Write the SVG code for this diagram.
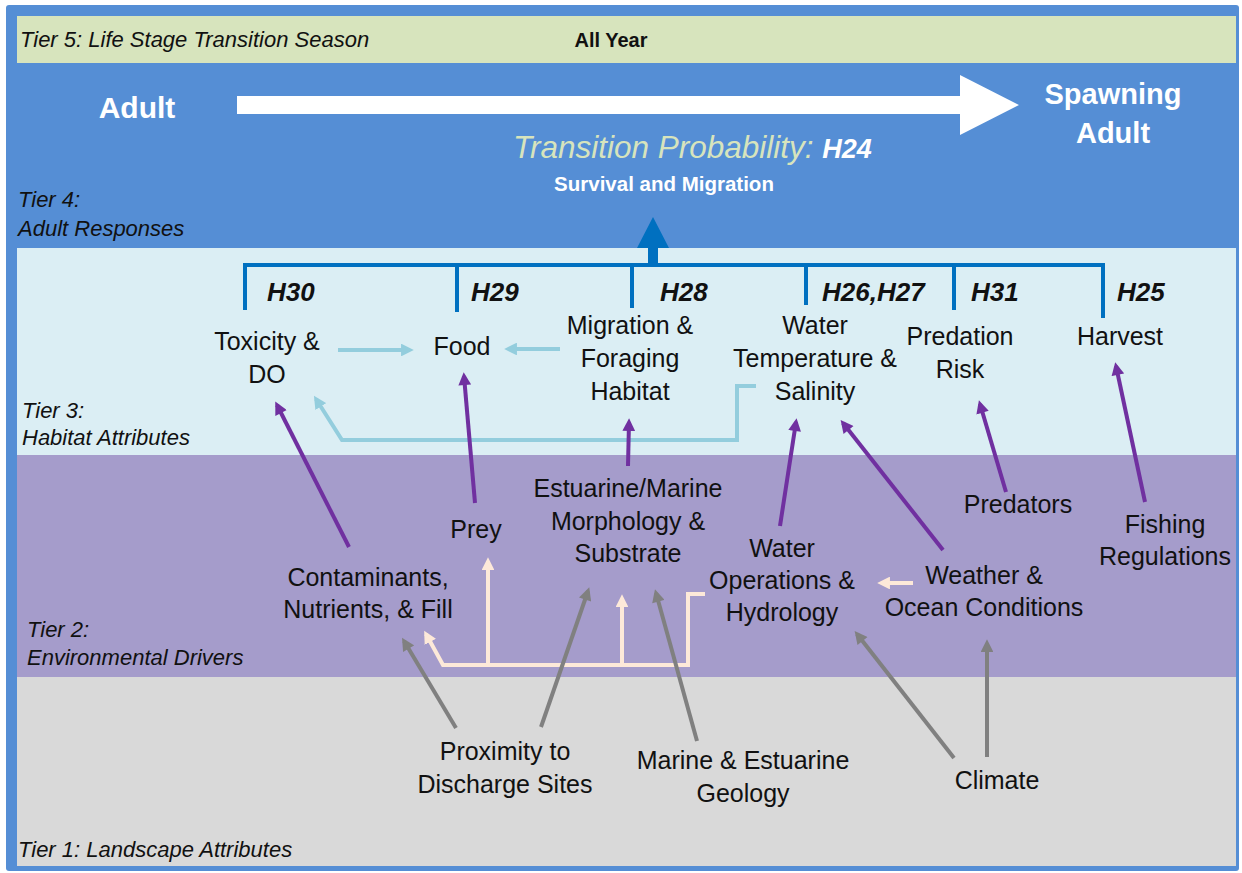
<svg xmlns="http://www.w3.org/2000/svg" width="1242" height="873" viewBox="0 0 1242 873">
<style>
.t{font-family:"Liberation Sans",Arial,sans-serif;fill:#111;}
.n{font-size:25px;text-anchor:middle;}
.tier{font-size:22px;font-style:italic;}
.h{font-size:26px;font-weight:bold;font-style:italic;}
.pu{stroke:#7030A0;stroke-width:4;fill:none;marker-end:url(#mPu);}
.gr{stroke:#808080;stroke-width:4;fill:none;marker-end:url(#mGr);}
.lb{stroke:#93CDDD;stroke-width:4;fill:none;marker-end:url(#mLb);}
.pe{stroke:#FDE9D9;stroke-width:4;fill:none;marker-end:url(#mPe);}
.br{stroke:#0070C0;stroke-width:4;fill:none;}
</style>
<defs>
<marker id="mPu" viewBox="0 0 10 10" refX="7" refY="5" markerWidth="3.4" markerHeight="3.2" orient="auto"><path d="M0,0 L10,5 L0,10 z" fill="#7030A0"/></marker>
<marker id="mGr" viewBox="0 0 10 10" refX="7" refY="5" markerWidth="3.4" markerHeight="3.2" orient="auto"><path d="M0,0 L10,5 L0,10 z" fill="#808080"/></marker>
<marker id="mLb" viewBox="0 0 10 10" refX="7" refY="5" markerWidth="3.2" markerHeight="3.2" orient="auto"><path d="M0,0 L10,5 L0,10 z" fill="#93CDDD"/></marker>
<marker id="mPe" viewBox="0 0 10 10" refX="7" refY="5" markerWidth="3.2" markerHeight="3.2" orient="auto"><path d="M0,0 L10,5 L0,10 z" fill="#FDE9D9"/></marker>
</defs>

<g id="background">
<rect x="6" y="5" width="1233" height="866" rx="3" fill="#558ED5"/>
<rect x="17" y="16" width="1219" height="47" fill="#D7E4BD"/>
<rect x="17" y="248" width="1219" height="207" fill="#DBEEF4"/>
<rect x="17" y="455" width="1219" height="222" fill="#A59CCB"/>
<rect x="17" y="677" width="1219" height="189" fill="#D9D9D9"/>
</g>

<g id="tier-labels">
<text class="t tier" x="20" y="47" font-size="21">Tier 5: Life Stage Transition Season</text>
<text class="t tier" x="18" y="207">Tier 4:</text>
<text class="t tier" x="18" y="236">Adult Responses</text>
<text class="t tier" x="22" y="418">Tier 3:</text>
<text class="t tier" x="22" y="445">Habitat Attributes</text>
<text class="t tier" x="27" y="637">Tier 2:</text>
<text class="t tier" x="27" y="665">Environmental Drivers</text>
<text class="t tier" x="18" y="857">Tier 1: Landscape Attributes</text>
</g>

<g id="season">
<text class="t" x="611" y="47" font-size="20" font-weight="bold" text-anchor="middle">All Year</text>
</g>

<g id="adult">
<text class="t" x="137" y="118" font-size="30" font-weight="bold" text-anchor="middle" style="fill:#fff">Adult</text>
</g>
<g id="spawning-adult">
<text class="t" x="1113" y="104" font-size="29" font-weight="bold" text-anchor="middle" style="fill:#fff">Spawning</text>
<text class="t" x="1113" y="143" font-size="29" font-weight="bold" text-anchor="middle" style="fill:#fff">Adult</text>
</g>
<g id="transition-arrow">
<polygon points="237,96 960,96 960,75 1019,105 960,135 960,114 237,114" fill="#fff"/>
</g>
<g id="transition-probability">
<text class="t" x="513" y="158" font-size="31.5" font-style="italic" style="fill:#D7E4BD">Transition Probability: <tspan font-weight="bold" font-size="27" style="fill:#fff">H24</tspan></text>
<text class="t" x="664" y="191" font-size="20.5" font-weight="bold" text-anchor="middle" style="fill:#fff">Survival and Migration</text>
</g>

<g id="connectors">
<path class="br" d="M245,310 V265 H1103 V318"/>
<path class="br" d="M457,265 V312 M632,265 V308 M806,265 V305 M954,265 V310"/>
<polygon points="648,265 658,265 658,248 669,248 653,217 637,248 648,248" fill="#0070C0"/>
<path class="lb" d="M338,350 H410"/>
<path class="lb" d="M560,349 H508"/>
<path class="lb" d="M756,386 H737 V440 H342 L316,399"/>
<path class="pu" d="M349,547 L277,405"/>
<path class="pu" d="M475,503 L464,376"/>
<path class="pu" d="M628,466 L629,422"/>
<path class="pu" d="M780,526 L796,422"/>
<path class="pu" d="M943,550 L843,423"/>
<path class="pu" d="M1006,492 L980,404"/>
<path class="pu" d="M1145,502 L1116,366"/>
<path class="pe" d="M705,594 H688 V665 H443 L426,634"/>
<path class="pe" d="M488,665 V561"/>
<path class="pe" d="M622,665 V598"/>
<path class="pe" d="M913,583 H881"/>
<path class="gr" d="M456,728 L404,641"/>
<path class="gr" d="M541,727 L588,591"/>
<path class="gr" d="M697,741 L656,593"/>
<path class="gr" d="M954,758 L857,634"/>
<path class="gr" d="M987,757 V643"/>
</g>

<g id="hyp-labels">
<text class="t h" x="267" y="301">H30</text>
<text class="t h" x="471" y="301">H29</text>
<text class="t h" x="660" y="301">H28</text>
<text class="t h" x="822" y="301">H26,H27</text>
<text class="t h" x="971" y="301">H31</text>
<text class="t h" x="1117" y="301">H25</text>
</g>

<g id="toxicity-do"><text class="t n" x="267" y="350">Toxicity &amp;</text><text class="t n" x="267" y="383">DO</text></g>
<g id="food"><text class="t n" x="462" y="355">Food</text></g>
<g id="migration-foraging-habitat"><text class="t n" x="630" y="334">Migration &amp;</text><text class="t n" x="630" y="367">Foraging</text><text class="t n" x="630" y="400">Habitat</text></g>
<g id="water-temperature-salinity"><text class="t n" x="815" y="334">Water</text><text class="t n" x="815" y="367">Temperature &amp;</text><text class="t n" x="815" y="400">Salinity</text></g>
<g id="predation-risk"><text class="t n" x="960" y="345">Predation</text><text class="t n" x="960" y="378">Risk</text></g>
<g id="harvest"><text class="t n" x="1120" y="345">Harvest</text></g>

<g id="prey"><text class="t n" x="476" y="538">Prey</text></g>
<g id="estuarine-marine-morphology"><text class="t n" x="628" y="497">Estuarine/Marine</text><text class="t n" x="628" y="530">Morphology &amp;</text><text class="t n" x="628" y="562">Substrate</text></g>
<g id="contaminants"><text class="t n" x="368" y="586">Contaminants,</text><text class="t n" x="368" y="618">Nutrients, &amp; Fill</text></g>
<g id="water-operations"><text class="t n" x="782" y="557">Water</text><text class="t n" x="782" y="589">Operations &amp;</text><text class="t n" x="782" y="621">Hydrology</text></g>
<g id="weather-ocean"><text class="t n" x="984" y="584">Weather &amp;</text><text class="t n" x="984" y="616">Ocean Conditions</text></g>
<g id="predators"><text class="t n" x="1018" y="513">Predators</text></g>
<g id="fishing-regulations"><text class="t n" x="1165" y="533">Fishing</text><text class="t n" x="1165" y="565">Regulations</text></g>

<g id="proximity"><text class="t n" x="505" y="760">Proximity to</text><text class="t n" x="505" y="793">Discharge Sites</text></g>
<g id="geology"><text class="t n" x="743" y="769">Marine &amp; Estuarine</text><text class="t n" x="743" y="802">Geology</text></g>
<g id="climate"><text class="t n" x="997" y="789">Climate</text></g>
</svg>
